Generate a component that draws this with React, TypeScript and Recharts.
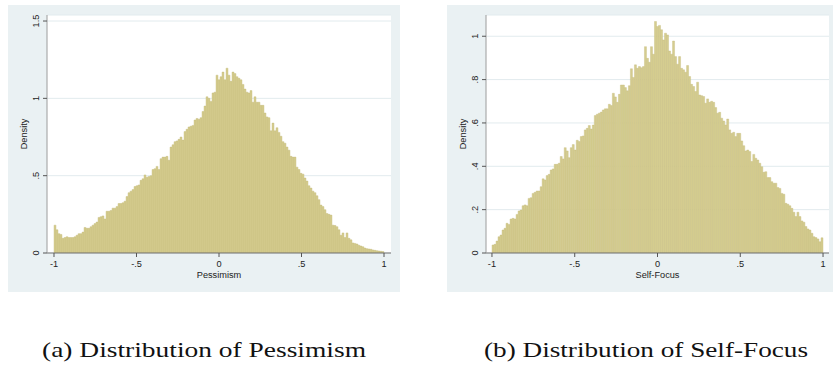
import React from 'react';
import { BarChart, Bar, XAxis, YAxis, CartesianGrid } from 'recharts';

// density per bin, 165 equal bins between -1 and 1
const pessimismDensity = [
  0.18, 0.15, 0.125, 0.12, 0.095, 0.1, 0.105, 0.1, 0.1, 0.1,
  0.105, 0.115, 0.125, 0.125, 0.135, 0.165, 0.16, 0.16, 0.17, 0.18,
  0.19, 0.2, 0.23, 0.235, 0.24, 0.22, 0.27, 0.27, 0.275, 0.29,
  0.29, 0.3, 0.32, 0.32, 0.325, 0.335, 0.365, 0.39, 0.4, 0.41,
  0.43, 0.435, 0.44, 0.47, 0.48, 0.505, 0.49, 0.495, 0.5, 0.54,
  0.545, 0.56, 0.54, 0.61, 0.62, 0.62, 0.625, 0.6, 0.685, 0.7,
  0.72, 0.725, 0.735, 0.75, 0.73, 0.785, 0.8, 0.815, 0.82, 0.825,
  0.86, 0.87, 0.865, 0.875, 0.915, 0.95, 1.01, 1.0, 0.98, 1.035,
  1.04, 1.15, 1.12, 1.14, 1.17, 1.12, 1.195, 1.15, 1.11, 1.17,
  1.16, 1.14, 1.13, 1.12, 1.09, 1.06, 1.04, 1.035, 1.05, 0.975,
  1.01, 0.975, 0.975, 0.955, 0.955, 0.905, 0.88, 0.875, 0.79, 0.84,
  0.79, 0.81, 0.78, 0.755, 0.72, 0.71, 0.685, 0.665, 0.625, 0.62,
  0.62, 0.555, 0.54, 0.515, 0.51, 0.485, 0.465, 0.435, 0.42, 0.4,
  0.39, 0.37, 0.345, 0.31, 0.3, 0.28, 0.255, 0.25, 0.245, 0.18,
  0.178, 0.17, 0.15, 0.115, 0.13, 0.1, 0.13, 0.095, 0.085, 0.065,
  0.062, 0.058, 0.05, 0.045, 0.04, 0.032, 0.028, 0.026, 0.024, 0.02,
  0.017, 0.015, 0.013, 0.011, 0.009,
];

const selfFocusDensity = [
  0.037, 0.04, 0.055, 0.075, 0.083, 0.106, 0.114, 0.137, 0.132, 0.157,
  0.16, 0.157, 0.178, 0.194, 0.198, 0.218, 0.222, 0.218, 0.252, 0.255,
  0.275, 0.28, 0.286, 0.286, 0.306, 0.342, 0.337, 0.357, 0.363, 0.383,
  0.388, 0.409, 0.409, 0.414, 0.445, 0.434, 0.486, 0.471, 0.44, 0.486,
  0.5, 0.475, 0.52, 0.514, 0.537, 0.54, 0.568, 0.575, 0.588, 0.572,
  0.59, 0.634, 0.64, 0.645, 0.65, 0.66, 0.665, 0.665, 0.686, 0.68,
  0.737, 0.72, 0.695, 0.732, 0.775, 0.775, 0.763, 0.748, 0.772, 0.85,
  0.81, 0.868, 0.852, 0.86, 0.855, 0.86, 0.952, 0.898, 0.88, 0.952,
  0.917, 1.068, 1.045, 1.05, 1.03, 0.983, 1.014, 1.006, 0.932, 0.917,
  0.978, 0.906, 0.871, 0.906, 0.852, 0.845, 0.834, 0.865, 0.814, 0.778,
  0.768, 0.745, 0.788, 0.729, 0.726, 0.722, 0.691, 0.711, 0.695, 0.7,
  0.695, 0.671, 0.645, 0.649, 0.622, 0.609, 0.591, 0.618, 0.568, 0.552,
  0.557, 0.537, 0.552, 0.552, 0.517, 0.495, 0.471, 0.475, 0.468, 0.422,
  0.455, 0.437, 0.429, 0.414, 0.398, 0.372, 0.375, 0.348, 0.348, 0.329,
  0.322, 0.322, 0.302, 0.298, 0.275, 0.271, 0.229, 0.225, 0.218, 0.206,
  0.188, 0.168, 0.188, 0.168, 0.148, 0.142, 0.122, 0.111, 0.106, 0.091,
  0.075, 0.071, 0.065, 0.052, 0.07,
];

const xTicks = [-1, -0.5, 0, 0.5, 1];
const pessimismYTicks = [0, 0.5, 1, 1.5];
const selfFocusYTicks = [0, 0.2, 0.4, 0.6, 0.8, 1];

const FONT = '"Liberation Sans", Arial, Helvetica, sans-serif';
const BAR_FILL = '#d5cd90';
const BAR_EDGE = '#c4bb7b';
const PANEL_BG = '#eaf1f3';
const GRID = '#e2ebee';

// stata style: -.5, .5, 0
const fmt = (v: number) => (v === 0 ? '0' : String(v).replace('0.', '.'));

const YTick = (props: any) => {
  const { x, y, payload } = props;
  return (
    <text
      x={0}
      y={0}
      transform={`translate(${x - 2.2},${y}) rotate(-90)`}
      textAnchor="middle"
      fontSize={9.2}
      fontFamily={FONT}
      fill="#222"
    >
      {fmt(payload.value)}
    </text>
  );
};

const XTick = (props: any) => {
  const { x, y, payload } = props;
  return (
    <text x={x} y={y + 7.5} textAnchor="middle" fontSize={9.2} fontFamily={FONT} fill="#222">
      {fmt(payload.value)}
    </text>
  );
};

const YLabel = (props: any) => {
  const vb = props.viewBox || { x: 0, y: 0, width: 0, height: 0 };
  return (
    <text
      x={0}
      y={0}
      transform={`translate(${vb.x + 19.3},${vb.y + vb.height / 2}) rotate(-90)`}
      textAnchor="middle"
      fontSize={9.2}
      fontFamily={FONT}
      fill="#222"
    >
      Density
    </text>
  );
};

const XLabel = (props: any) => {
  const vb = props.viewBox || { x: 0, y: 0, width: 0, height: 0 };
  return (
    <text x={vb.x + vb.width / 2} y={vb.y + 24.5} textAnchor="middle" fontSize={9.2} fontFamily={FONT} fill="#222">
      {props.text}
    </text>
  );
};

interface PanelProps {
  values: number[];
  yTicks: number[];
  yMax: number;
  xLabel: string;
  width: number;
  rightMargin: number;
  edgePad: number;
  xExtent: number;
}

const Panel = ({ values, yTicks, yMax, xLabel, width, rightMargin, edgePad, xExtent }: PanelProps) => {
  const w = 2 / values.length;
  const data = values.map((d, i) => ({ bin: i, mid: -1 + (i + 0.5) * w, density: d }));
  return (
    <BarChart
      width={width}
      height={287}
      data={data}
      margin={{ top: 10, right: rightMargin, left: 0, bottom: 0 }}
      barCategoryGap={0}
      barGap={0}
    >
      <CartesianGrid xAxisId="num" fill="#ffffff" vertical={false} stroke={GRID} strokeWidth={1} />
      <XAxis
        xAxisId="num"
        dataKey="mid"
        type="number"
        domain={[-xExtent, xExtent]}
        ticks={xTicks}
        allowDataOverflow
        height={39}
        tickSize={4}
        stroke="#707070"
        tickLine={{ stroke: '#555' }}
        tick={<XTick />}
        label={<XLabel text={xLabel} />}
      />
      <XAxis xAxisId="cat" dataKey="bin" type="category" hide height={0} padding={{ left: edgePad, right: edgePad }} />
      <YAxis
        domain={[0, yMax]}
        ticks={yTicks}
        allowDataOverflow
        width={39}
        tickSize={4}
        stroke="#9c9c9c"
        tickLine={{ stroke: '#555' }}
        tick={<YTick />}
        label={<YLabel />}
      />
      <Bar
        xAxisId="cat"
        dataKey="density"
        fill={BAR_FILL}
        stroke={BAR_EDGE}
        strokeWidth={0.4}
        isAnimationActive={false}
      />
    </BarChart>
  );
};

const CAPTION_FONT = '"Liberation Serif", "Times New Roman", serif';

const App = () => (
  <div style={{ position: 'absolute', left: 0, top: 0, width: 833, height: 367, background: '#fff', overflow: 'hidden' }}>
    <div style={{ position: 'absolute', left: 8, top: 5, width: 392, height: 287, background: PANEL_BG }}>
      <Panel
        values={pessimismDensity}
        yTicks={pessimismYTicks}
        yMax={1.539}
        xLabel="Pessimism"
        width={392}
        rightMargin={9}
        edgePad={7}
        xExtent={1.0424}
      />
    </div>
    <div style={{ position: 'absolute', left: 447, top: 5, width: 386, height: 287, background: PANEL_BG }}>
      <Panel
        values={selfFocusDensity}
        yTicks={selfFocusYTicks}
        yMax={1.098}
        xLabel="Self-Focus"
        width={386}
        rightMargin={4}
        edgePad={6}
        xExtent={1.036}
      />
    </div>
    <svg width={833} height={367} style={{ position: 'absolute', left: 0, top: 0, pointerEvents: 'none' }}>
      <text x={42} y={357} fontSize={22} fontFamily={CAPTION_FONT} fill="#111" textLength={324} lengthAdjust="spacingAndGlyphs">
        (a) Distribution of Pessimism
      </text>
      <text x={484} y={357} fontSize={22} fontFamily={CAPTION_FONT} fill="#111" textLength={324} lengthAdjust="spacingAndGlyphs">
        (b) Distribution of Self-Focus
      </text>
    </svg>
  </div>
);

export default App;
